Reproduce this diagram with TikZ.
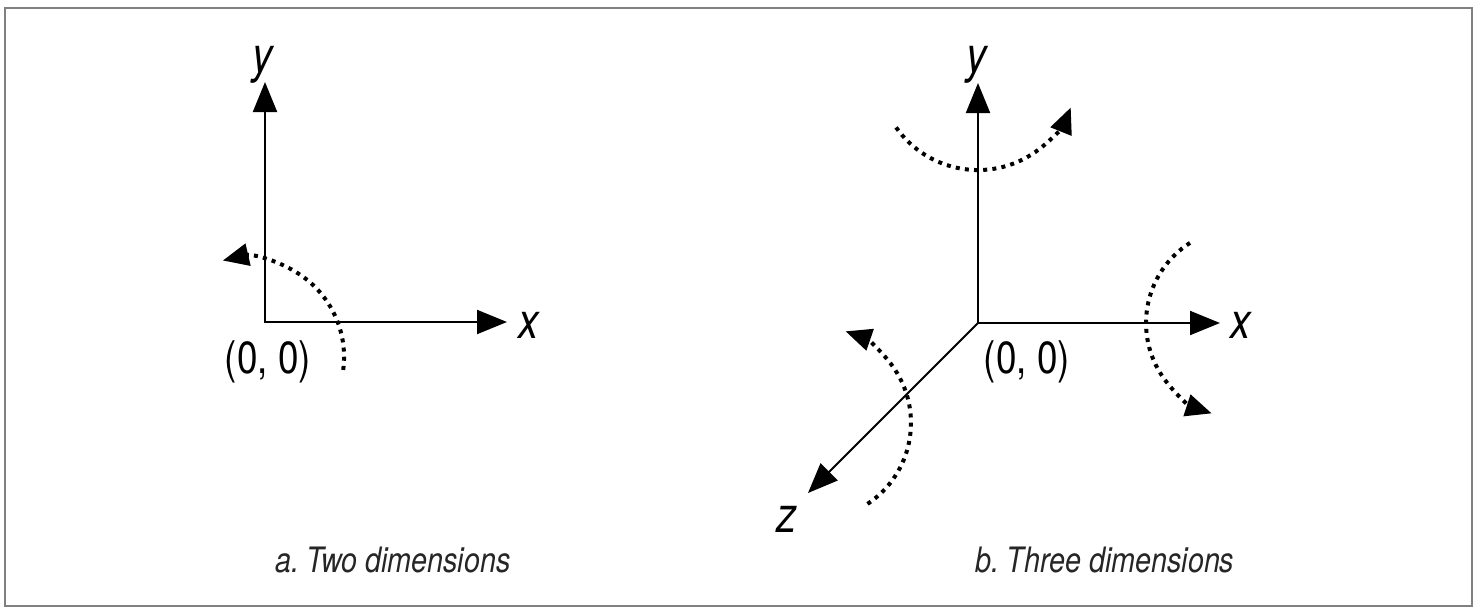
\documentclass[tikz,border=0pt]{standalone}
\usepackage{fontspec}
\setmainfont{TeX Gyre Heros}[FakeStretch=0.82]
\usetikzlibrary{arrows.meta}
\begin{document}
\begin{tikzpicture}[x=0.5pt,y=-0.5pt,
  axisline/.style={line width=1pt,line join=miter},
  rot/.style={line width=2pt,dash pattern=on 2pt off 2.6pt,-{Triangle[length=13pt,width=11pt]}},
  lbl/.style={font=\fontsize{25}{30}\selectfont\itshape,anchor=base,inner sep=0pt},
  orig/.style={font=\fontsize{22.5}{27}\selectfont,anchor=base,inner sep=0pt},
  captxt/.style={font=\fontsize{17.5}{21}\selectfont\itshape,anchor=base,inner sep=0pt,text=black!85}]
\useasboundingbox (0,0) rectangle (1480,616);
\draw[line width=1pt,draw=black!50] (5,8) rectangle (1472,606);

% ---- a. two dimensions
\coordinate (o2) at (265,322);
\coordinate (y2) at (265,82);
\coordinate (x2) at (507,322);
\draw[axisline,{Triangle[length=15pt,width=12pt]}-{Triangle[length=15pt,width=12pt]}] (y2) -- (o2) -- (x2);
\node[lbl] (ly2) at (263,72) {y};
\node[lbl] (lx2) at (529,338) {x};
\node[orig] (l02) at (268,373) {(0, 0)};
\coordinate (r2) at (343.2,369.9);
\draw[rot] (r2) arc[start angle=-7.5,end angle=103,radius=49.5pt];
\node[captxt] (ca) at (393,572) {a.\hspace{-0.1em} Two dimensions};

% ---- b. three dimensions
\coordinate (o3) at (978,323);
\coordinate (y3) at (978,83);
\coordinate (x3) at (1220,323);
\coordinate (z3) at (808,493);
\draw[axisline,{Triangle[length=15pt,width=12pt]}-{Triangle[length=15pt,width=12pt]}] (y3) -- (o3) -- (x3);
\draw[axisline,-{Triangle[length=15pt,width=12pt]}] (o3) -- (z3);
\node[lbl] (ly3) at (977,72) {y};
\node[lbl] (lx3) at (1241,338) {x};
\node[lbl] (lz3) at (787,532) {z};
\node[orig] (l03) at (1027,373) {(0, 0)};
\coordinate (ry) at (896.1,127.4);
\draw[rot] (ry) arc[start angle=215,end angle=338,radius=50pt];
\coordinate (rx) at (1190,242.9);
\draw[rot] (rx) arc[start angle=122.5,end angle=252,radius=47.5pt];
\coordinate (rz) at (867.5,503.9);
\draw[rot] (rz) arc[start angle=-56.5,end angle=71,radius=48.5pt];
\node[captxt] (cb) at (1105,572) {b.\hspace{-0.1em} Three dimensions};
\end{tikzpicture}
\end{document}
